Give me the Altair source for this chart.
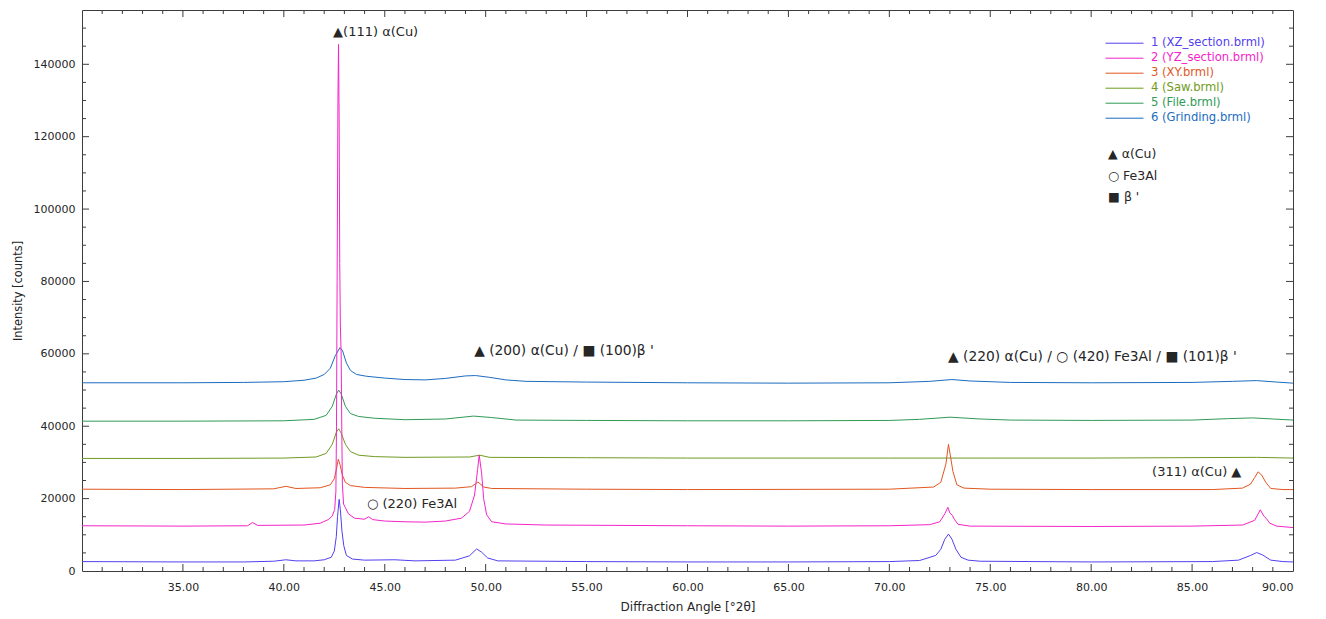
import altair as alt
import pandas as pd

# ---------------------------------------------------------------- data
series_names = ["1 (XZ_section.brml)", "2 (YZ_section.brml)", "3 (XY.brml)",
                "4 (Saw.brml)", "5 (File.brml)", "6 (Grinding.brml)"]

xz_angle = [30, 35, 38, 39.5, 40.1, 40.6, 41.5, 42.0, 42.35, 42.5, 42.6, 42.66, 42.74, 42.8,
            42.88, 42.97, 43.1, 43.4, 44, 45.5, 46.5, 48.5, 49.2, 49.55, 49.8, 50.1, 50.6,
            55, 60, 65, 70, 71.5, 72.3, 72.55, 72.75, 72.93, 73.1, 73.3, 73.55, 73.9, 74.5,
            80, 86, 87.3, 87.9, 88.2, 88.5, 88.9, 89.5, 90]
xz_counts = [2600, 2500, 2500, 2700, 3100, 2800, 2800, 3100, 3800, 5500, 9500, 15000, 19800, 17000,
             11000, 7000, 4300, 3300, 3000, 3100, 2800, 3000, 4200, 6100, 5200, 3600, 2800,
             2600, 2500, 2500, 2600, 2900, 4300, 6000, 8800, 10200, 8800, 6000, 3800, 3000, 2700,
             2500, 2600, 3000, 4300, 5100, 4400, 3000, 2600, 2500]

yz_angle = [30, 35, 38.2, 38.45, 38.7, 41.0, 41.8, 42.2, 42.4, 42.52, 42.58, 42.61, 42.64, 42.68,
            42.71, 42.74, 42.77, 42.8, 42.84, 42.87, 42.9, 42.96, 43.05, 43.2, 43.5, 44.0, 44.2,
            44.4, 45, 46, 47, 48, 48.8, 49.2, 49.45, 49.6, 49.68, 49.8, 49.9, 50.05, 50.3, 51,
            53, 60, 65, 70, 72.0, 72.5, 72.75, 72.9, 73.0, 73.12, 73.22, 73.4, 74, 80, 85, 87.5,
            88.1, 88.38, 88.55, 88.68, 88.85, 89.2, 90]
yz_counts = [12500, 12400, 12500, 13400, 12600, 12700, 13200, 14200, 15200, 17000, 22000, 40000,
             80000, 130000, 145500, 125000, 85000, 68000, 60000, 40000, 24000, 18500, 17500,
             15800, 14600, 14300, 15000, 14200, 13800, 13600, 13500, 13800, 14600, 16500, 21000,
             28000, 32000, 27000, 20000, 15500, 13600, 13000, 12700, 12500, 12400, 12500, 12800,
             13600, 15800, 17600, 16000, 15400, 14300, 12900, 12400, 12300, 12400, 12700, 14000,
             16900, 15200, 14500, 13200, 12400, 12000]

xy_angle = [30, 35, 39.5, 40.1, 40.6, 41.8, 42.3, 42.5, 42.62, 42.7, 42.78, 42.9, 43.05, 43.3, 44,
            46, 48.5, 49.3, 49.62, 49.9, 50.3, 55, 60, 70, 72.2, 72.55, 72.8, 72.93, 73.05, 73.15,
            73.35, 73.7, 75, 80, 86, 87.5, 87.9, 88.1, 88.27, 88.45, 88.65, 88.9, 89.5, 90]
xy_counts = [22600, 22500, 22700, 23400, 22800, 23000, 23800, 25500, 28500, 30900, 29500, 26500,
             24500, 23600, 23100, 22800, 22900, 23300, 24600, 23200, 22800, 22600, 22500, 22600,
             23200, 24500, 29500, 35000, 31000, 27500, 23800, 22900, 22600, 22500, 22500, 22900,
             24000, 25800, 27400, 26500, 24500, 22800, 22500, 22500]

saw_angle = [30, 35, 40, 41.6, 42.1, 42.4, 42.6, 42.72, 42.85, 43.05, 43.3, 43.7, 44.5, 46, 49.2,
             49.7, 50.2, 55, 60, 70, 75, 80, 88.2, 90]
saw_counts = [31100, 31100, 31200, 31500, 32500, 35000, 38300, 39300, 38000, 35000, 33000, 32000,
              31600, 31400, 31500, 32000, 31400, 31300, 31200, 31200, 31200, 31200, 31400, 31200]

file_angle = [30, 35, 40, 41.5, 42.1, 42.4, 42.6, 42.72, 42.85, 43.05, 43.3, 43.7, 44.5, 46, 48,
              49.4, 50.3, 51.5, 55, 60, 65, 70, 71.5, 73, 74.5, 76, 80, 85, 86.8, 88, 89, 90]
file_counts = [41400, 41400, 41500, 41900, 43000, 45500, 48800, 50000, 48800, 45500, 43500, 42700,
               42200, 41800, 42000, 42800, 42400, 41700, 41600, 41500, 41500, 41600, 41900, 42500,
               42000, 41700, 41600, 41700, 42100, 42300, 42000, 41700]

grind_angle = [30, 35, 38, 40, 41, 41.6, 42.0, 42.3, 42.55, 42.78, 42.9, 43.1, 43.3, 43.6, 44.1,
               45, 46, 47, 48, 49, 49.5, 50.2, 51, 52, 55, 60, 65, 70, 72, 73.1, 74, 76, 80, 85,
               87, 88.2, 89.2, 90]
grind_counts = [52000, 52000, 52100, 52300, 52700, 53300, 54300, 56000, 59500, 61700, 61000, 57500,
                55400, 54300, 53800, 53300, 52900, 52800, 53200, 53900, 54000, 53500, 52800, 52400,
                52200, 52000, 51900, 52000, 52400, 52900, 52500, 52100, 52000, 52100, 52400, 52600,
                52200, 51900]

series_points = [(xz_angle, xz_counts), (yz_angle, yz_counts), (xy_angle, xy_counts),
                 (saw_angle, saw_counts), (file_angle, file_counts), (grind_angle, grind_counts)]

x_label_values = [35, 40, 45, 50, 55, 60, 65, 70, 75, 80, 85, 90]
y_label_values = [0, 20000, 40000, 60000, 80000, 100000, 120000, 140000]
x_minor_ticks = [v for v in range(31, 90) if v % 5 != 0]
x_major_ticks = [35, 40, 45, 50, 55, 60, 65, 70, 75, 80, 85]
y_minor_ticks = [v for v in range(5000, 155000, 5000) if v % 20000 != 0]
y_major_ticks = [20000, 40000, 60000, 80000, 100000, 120000, 140000]

annotations_big = ["▲ (200) α(Cu) / ■ (100)β '", "▲ (220) α(Cu) / ○ (420) Fe3Al  / ■ (101)β '"]
annotations_big_angle = [49.43, 72.91]
annotations_big_counts = [60900, 59000]

annotations = ["▲(111) α(Cu)", "(311) α(Cu) ▲", "○ (220) Fe3Al"]
annotations_angle = [42.44, 83.02, 44.12]
annotations_counts = [149000, 27300, 18500]

phase_labels = ["▲ α(Cu)", "○ Fe3Al", "■ β '"]
phase_angle = [80.84, 80.84, 80.84]
phase_counts = [115200, 109100, 103300]

# ---------------------------------------------------------------- style
FONT = "DejaVu Sans"
INK = "#262626"
FRAME = "#3c3c3c"
X_TITLE = "Diffraction Angle [°2θ]"
Y_TITLE = "Intensity [counts]"
series_colors = ["#5140f0", "#f424c8", "#e2561f", "#6f9b22", "#2f9a55", "#1c6cc0"]
series_widths = [1, 1, 1, 1, 1.3, 2.6]
draw_order = [5, 4, 3, 2, 0, 1]
PLOT_W, PLOT_H = 1211, 561

rows = []
for idx in draw_order:
    a, c = series_points[idx]
    for i, (x, y) in enumerate(zip(a, c)):
        rows.append({"series": series_names[idx], "angle": x, "counts": y, "ord": i})
lines_df = pd.DataFrame(rows)

xs = alt.Scale(domain=[30, 90], nice=False, zero=False)
ys = alt.Scale(domain=[0, 155000], nice=False, zero=False)

lines = alt.Chart(lines_df).mark_line(clip=True, strokeJoin="round").encode(
    x=alt.X("angle:Q", scale=xs, title=X_TITLE, axis=alt.Axis(
        values=x_label_values, format=".2f", labelFlush=True, ticks=False, domain=False,
        grid=False, labelPadding=10, labelFont=FONT, labelFontSize=11, labelColor=INK,
        titleFont=FONT, titleFontSize=12,
        titleFontWeight="normal", titleColor=INK, titlePadding=9)),
    y=alt.Y("counts:Q", scale=ys, title=Y_TITLE, axis=alt.Axis(
        values=y_label_values, format="d", ticks=False, domain=False, grid=False,
        labelPadding=7, labelFont=FONT, labelFontSize=11, labelColor=INK,
        titleFont=FONT, titleFontSize=11.4,
        titleFontWeight="normal", titleColor=INK, titlePadding=10)),
    color=alt.Color("series:N", scale=alt.Scale(domain=series_names, range=series_colors),
                    legend=alt.Legend(
                        title=None, orient="none", legendX=1023, legendY=26,
                        symbolType="stroke", symbolSize=1444, symbolStrokeWidth=1.2,
                        labelOffset=7, labelFont=FONT, labelFontSize=11.6,
                        labelColor={"expr": "scale('color', datum.value)"},
                        clipHeight=14.4, rowPadding=0, padding=0, labelLimit=300)),
    strokeWidth=alt.StrokeWidth("series:N",
                                scale=alt.Scale(domain=series_names, range=series_widths),
                                legend=None),
    order="ord:Q",
)


def tick_layer(values, side, length):
    df = pd.DataFrame({"v": values})
    base = alt.Chart(df).mark_rule(color=FRAME, strokeWidth=1)
    if side == "bottom":
        enc = dict(x=alt.X("v:Q", scale=xs, title=X_TITLE), y=alt.value(PLOT_H),
                   y2=alt.value(PLOT_H - length))
    elif side == "top":
        enc = dict(x=alt.X("v:Q", scale=xs, title=X_TITLE), y=alt.value(0),
                   y2=alt.value(length))
    elif side == "left":
        enc = dict(y=alt.Y("v:Q", scale=ys, title=Y_TITLE), x=alt.value(0),
                   x2=alt.value(length))
    else:
        enc = dict(y=alt.Y("v:Q", scale=ys, title=Y_TITLE), x=alt.value(PLOT_W),
                   x2=alt.value(PLOT_W - length))
    return base.encode(**enc)


ticks = [
    tick_layer(x_minor_ticks, "bottom", 4), tick_layer(x_major_ticks, "bottom", 7),
    tick_layer(x_minor_ticks, "top", 4), tick_layer(x_major_ticks, "top", 7),
    tick_layer(y_minor_ticks, "left", 4), tick_layer(y_major_ticks, "left", 7),
    tick_layer(y_minor_ticks, "right", 4), tick_layer(y_major_ticks, "right", 7),
]


def text_layer(texts, angles, counts, size):
    df = pd.DataFrame({"text": texts, "angle": angles, "counts": counts})
    return alt.Chart(df).mark_text(align="left", baseline="middle", font=FONT,
                                   fontSize=size, color=INK).encode(
        x=alt.X("angle:Q", scale=xs, title=X_TITLE),
        y=alt.Y("counts:Q", scale=ys, title=Y_TITLE),
        text="text:N",
    )


texts = [
    text_layer(annotations_big, annotations_big_angle, annotations_big_counts, 13.8),
    text_layer(annotations, annotations_angle, annotations_counts, 13),
    text_layer(phase_labels, phase_angle, phase_counts, 12.5),
]

chart = alt.layer(lines, *ticks, *texts).properties(
    width=PLOT_W, height=PLOT_H,
    autosize=alt.AutoSizeParams(type="none"),
    padding={"left": 82, "top": 10, "right": 33, "bottom": 48},
    background="white",
).configure_view(stroke=FRAME, strokeWidth=1)

chart.save("out.html", embed_options={"renderer": "svg", "actions": False})
